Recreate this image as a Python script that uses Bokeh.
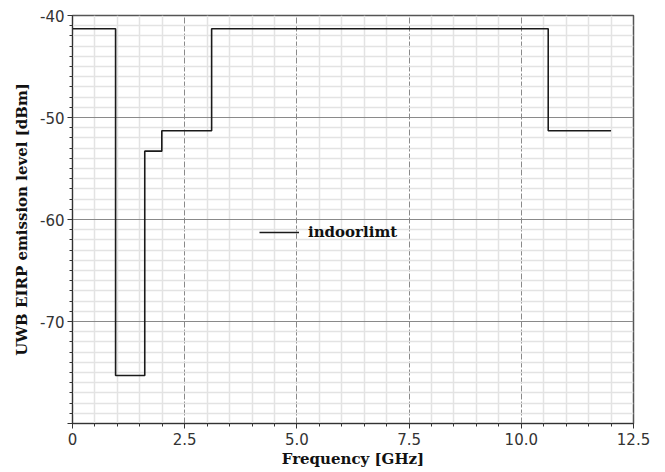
from bokeh.plotting import figure
from bokeh.models import Range1d, FixedTicker, Legend, LegendItem
from bokeh.embed import file_html
from bokeh.resources import INLINE

# Data (indoor UWB EIRP emission limit mask)
freq_ghz = [0.0, 0.96, 1.61, 1.99, 3.1, 10.6, 12.0]
level_dbm = [-41.3, -75.3, -53.3, -51.3, -41.3, -51.3, -51.3]
series_name = "indoorlimt"

x_major = [0, 2.5, 5, 7.5, 10, 12.5]
x_labels = ["0", "2.5", "5.0", "7.5", "10.0", "12.5"]
y_major = [-80, -70, -60, -50, -40]
y_labels = ["", "-70", "-60", "-50", "-40"]

p = figure(width=657, height=470, output_backend="svg", toolbar_location=None,
           x_range=Range1d(0, 12.5), y_range=Range1d(-80, -40),
           min_border_left=72, min_border_right=24, min_border_top=15, min_border_bottom=47)

x_minor = [i * 0.5 for i in range(0, 26) if (i * 0.5) not in x_major]
y_minor = [v for v in range(-80, -39) if v not in y_major]

p.xaxis.ticker = FixedTicker(ticks=x_major, minor_ticks=x_minor)
p.yaxis.ticker = FixedTicker(ticks=y_major, minor_ticks=y_minor)
p.xaxis.major_label_overrides = {k: v for k, v in zip(x_major, x_labels)}
p.yaxis.major_label_overrides = {k: v for k, v in zip(y_major, y_labels)}

# grids
p.xgrid.grid_line_color = "#8a8a8a"
p.xgrid.grid_line_dash = "6 2"
p.xgrid.grid_line_width = 1
p.ygrid.grid_line_color = "#8a8a8a"
p.ygrid.grid_line_width = 1
for g in (p.xgrid, p.ygrid):
    g.minor_grid_line_color = "#e3e3e3"
    g.minor_grid_line_width = 1.5

# axes
for ax in (p.xaxis, p.yaxis):
    ax.axis_line_color = "#333333"
    ax.major_tick_line_color = "#333333"
    ax.minor_tick_line_color = "#333333"
    ax.major_tick_out = 5
    ax.major_tick_in = 0
    ax.minor_tick_out = 3
    ax.minor_tick_in = 0
    ax.major_label_text_font = "DejaVu Sans"
    ax.major_label_text_font_size = "15px"
    ax.major_label_text_color = "#333333"
    ax.axis_label_text_font = "DejaVu Serif"
    ax.axis_label_text_font_style = "bold"
    ax.axis_label_text_font_size = "15px"
    ax.axis_label_text_color = "#111111"

p.xaxis.axis_label = "Frequency [GHz]"
p.yaxis.axis_label = "UWB EIRP emission level [dBm]"
p.xaxis.axis_label_standoff = 2
p.yaxis.axis_label_standoff = 6
p.xaxis.major_label_standoff = 4
p.yaxis.major_label_standoff = 3

p.outline_line_color = "#555555"
p.outline_line_width = 1.5
p.background_fill_color = "white"
p.border_fill_color = "white"

r = p.step(freq_ghz, level_dbm, mode="after", line_color="#1a1a1a", line_width=1.6)

legend = Legend(items=[LegendItem(label=series_name, renderers=[r])],
                location=(187, 181), orientation="vertical",
                padding=0, margin=0, spacing=0,
                glyph_width=40, glyph_height=20, label_height=20,
                label_standoff=9,
                border_line_color=None, background_fill_alpha=0,
                label_text_font="DejaVu Serif", label_text_font_style="bold",
                label_text_font_size="15px", label_text_color="#111111")
p.add_layout(legend, "center")

open("out.html", "w").write(file_html(p, INLINE))
